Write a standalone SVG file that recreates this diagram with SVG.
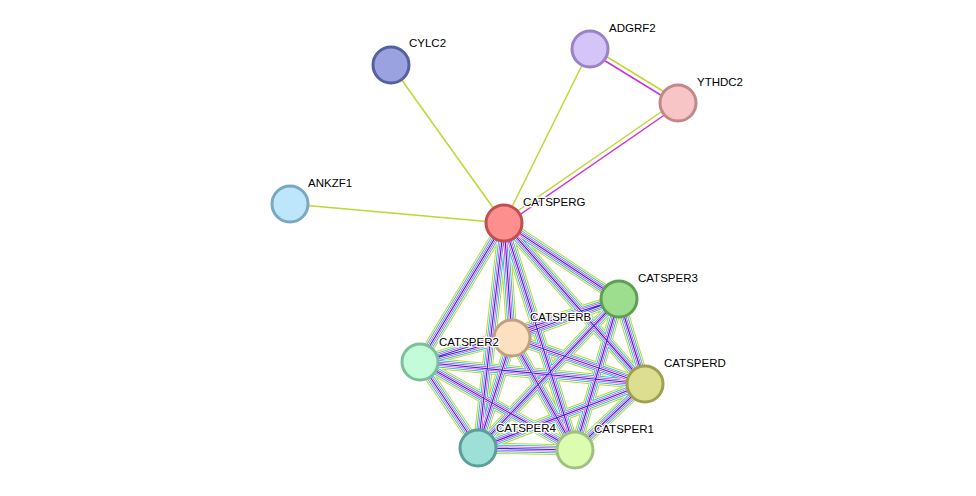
<svg xmlns="http://www.w3.org/2000/svg" width="976" height="496" viewBox="0 0 976 496">
<style>
.n{stroke-width:3}
.t{font-family:"Liberation Sans",Arial,sans-serif;font-size:11.5px;fill:#000;paint-order:stroke;stroke:#fff;stroke-width:2.5px}
.e{fill:none}
</style>
<defs>
<path id="cl" d="M504,223L619,299M504,223L512,338M504,223L420,362M504,223L645,384M504,223L478,448M504,223L575,450M619,299L512,338M619,299L420,362M619,299L645,384M619,299L478,448M619,299L575,450M512,338L420,362M512,338L645,384M512,338L478,448M512,338L575,450M420,362L645,384M420,362L478,448M420,362L575,450M645,384L478,448M645,384L575,450M478,448L575,450"/>
</defs>
<rect width="976" height="496" fill="#fff"/>
<g id="connectors">
<line x1="391" y1="65" x2="504" y2="223" stroke="#c1d630" stroke-width="1.5"/>
<line x1="290" y1="204" x2="504" y2="223" stroke="#c1d630" stroke-width="1.5"/>
<line x1="590" y1="49" x2="504" y2="223" stroke="#c1d630" stroke-width="1.5"/>
<line x1="591" y1="47" x2="679" y2="101" stroke="#c1d630" stroke-width="1.5"/>
<line x1="589" y1="51" x2="677" y2="105" stroke="#d030d8" stroke-width="1.5"/>
<line x1="677" y1="101" x2="503" y2="221" stroke="#c1d630" stroke-width="1.5"/>
<line x1="679" y1="105" x2="505" y2="225" stroke="#d030d8" stroke-width="1.5"/>
<use href="#cl" class="e" stroke="#c1d630" stroke-width="11"/>
<use href="#cl" class="e" stroke="#fff" stroke-width="9"/>
<use href="#cl" class="e" stroke="#30c0d8" stroke-width="7.5"/>
<use href="#cl" class="e" stroke="#fff" stroke-width="5.5"/>
<use href="#cl" class="e" stroke="#d030d8" stroke-width="4"/>
<use href="#cl" class="e" stroke="#fff" stroke-width="2.5"/>
<use href="#cl" class="e" stroke="#3030e0" stroke-width="1.2"/>
</g>
<g id="CYLC2"><circle class="n" cx="391" cy="65" r="18" fill="#9aa3e0" stroke="#5560a0"/><text class="t" x="409" y="47">CYLC2</text></g>
<g id="ADGRF2"><circle class="n" cx="590" cy="49" r="18" fill="#d4c4f8" stroke="#9a82c8"/><text class="t" x="609" y="32">ADGRF2</text></g>
<g id="YTHDC2"><circle class="n" cx="678" cy="103" r="18" fill="#f7c5c5" stroke="#c08888"/><text class="t" x="697" y="86">YTHDC2</text></g>
<g id="ANKZF1"><circle class="n" cx="290" cy="204" r="18" fill="#bde6fa" stroke="#7aa8c0"/><text class="t" x="308" y="187">ANKZF1</text></g>
<g id="CATSPERG"><circle class="n" cx="504" cy="223" r="18" fill="#fd8f8f" stroke="#c05050"/><text class="t" x="523" y="206">CATSPERG</text></g>
<g id="CATSPER3"><circle class="n" cx="619" cy="299" r="18" fill="#9cde8e" stroke="#5da050"/><text class="t" x="638" y="282">CATSPER3</text></g>
<g id="CATSPERB"><circle class="n" cx="512" cy="338" r="18" fill="#fde0c0" stroke="#c0a080"/><text class="t" x="530" y="321">CATSPERB</text></g>
<g id="CATSPER2"><circle class="n" cx="420" cy="362" r="18" fill="#c2fcd8" stroke="#7cc09a"/><text class="t" x="439" y="346">CATSPER2</text></g>
<g id="CATSPERD"><circle class="n" cx="645" cy="384" r="18" fill="#dede90" stroke="#a0a050"/><text class="t" x="664" y="367">CATSPERD</text></g>
<g id="CATSPER4"><circle class="n" cx="478" cy="448" r="18" fill="#9ce0d8" stroke="#5aa098"/><text class="t" x="496" y="432">CATSPER4</text></g>
<g id="CATSPER1"><circle class="n" cx="575" cy="450" r="18" fill="#dcfcb0" stroke="#a0c080"/><text class="t" x="594" y="433">CATSPER1</text></g>
</svg>
